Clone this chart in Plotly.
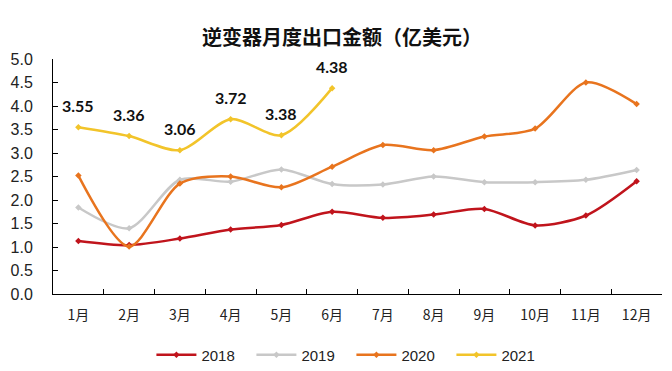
import plotly.graph_objects as go

months = ["1月", "2月", "3月", "4月", "5月", "6月", "7月", "8月", "9月", "10月", "11月", "12月"]
y2018 = [1.13, 1.04, 1.18, 1.37, 1.47, 1.75, 1.62, 1.69, 1.81, 1.46, 1.67, 2.40]
y2019 = [1.84, 1.40, 2.43, 2.39, 2.65, 2.34, 2.33, 2.50, 2.38, 2.38, 2.43, 2.64]
y2020 = [2.52, 1.01, 2.35, 2.50, 2.27, 2.71, 3.17, 3.06, 3.35, 3.52, 4.50, 4.04]
y2021 = [3.55, 3.36, 3.06, 3.72, 3.38, 4.38]
y_ticks = [0.0, 0.5, 1.0, 1.5, 2.0, 2.5, 3.0, 3.5, 4.0, 4.5, 5.0]

series = [
    ("2018", y2018, "#C0141C"),
    ("2019", y2019, "#C8C8C8"),
    ("2020", y2020, "#E8741E"),
    ("2021", y2021, "#F2C42A"),
]

fig = go.Figure()
for name, vals, color in series:
    fig.add_trace(go.Scatter(
        x=months[:len(vals)], y=vals, name=name, mode="lines+markers",
        line=dict(color=color, width=2.5, shape="spline", smoothing=0.8),
        marker=dict(color=color, size=5, symbol="diamond"),
    ))

for m, v in zip(months, y2021):
    fig.add_annotation(x=m, y=v, text=f"{v:.2f}", showarrow=False, yshift=22,
                       font=dict(family="Lato, Open Sans, sans-serif", size=16,
                                 color="#111111", weight="bold"))

fig.update_layout(
    width=664, height=363,
    margin=dict(l=45, r=10, t=51, b=77, autoexpand=False),
    paper_bgcolor="white", plot_bgcolor="white",
    title=dict(text="逆变器月度出口金额（亿美元）", x=0.503, xanchor="center", y=0.917, yanchor="middle",
               font=dict(family="Noto Sans CJK SC", size=20, color="#111111", weight="bold")),
    showlegend=True,
    legend=dict(orientation="h", x=0.49, xanchor="center", y=-0.26, yanchor="middle",
                font=dict(family="Liberation Sans, Arial", size=15, color="#222222"),
                itemwidth=40, entrywidth=45, entrywidthmode="pixels", tracegroupgap=0),
    font=dict(family="Liberation Sans, Arial", color="#222222"),
)

fig.update_xaxes(
    type="category", showgrid=False, showline=True, linecolor="black", linewidth=1,
    ticks="inside", tickson="boundaries", ticklen=5, tickcolor="black",
    tickfont=dict(family="Noto Sans CJK SC", size=14, color="#222222"),
    ticklabelstandoff=8, range=[-0.5, 11.5], automargin=False,
)
fig.update_yaxes(
    range=[0, 5.0], tickvals=y_ticks, ticktext=[f"{t:.1f}" for t in y_ticks],
    showgrid=False, showline=True, linecolor="black", linewidth=1,
    ticks="inside", ticklen=5, tickcolor="black",
    tickfont=dict(family="Liberation Sans, Arial", size=16, color="#222222"),
    ticklabelstandoff=16, zeroline=False, automargin=False,
)

fig.write_html("out.html")
